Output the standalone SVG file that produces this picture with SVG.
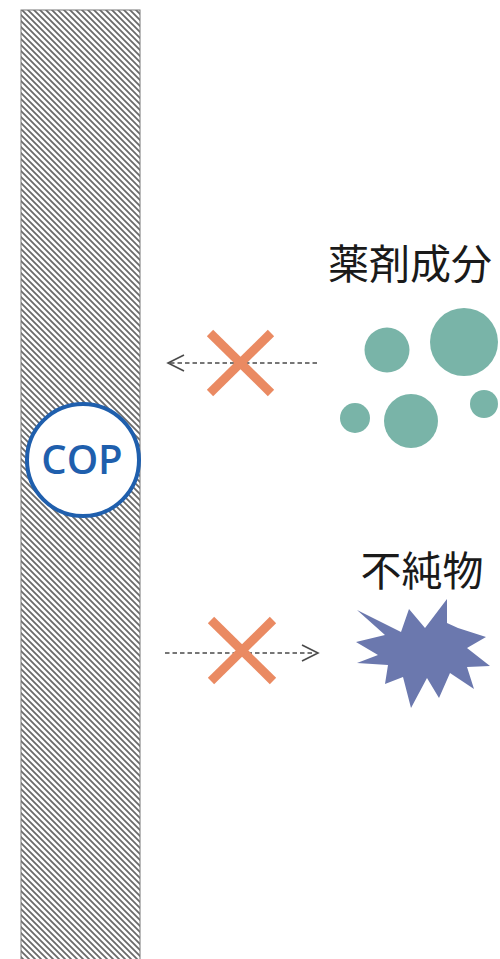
<svg xmlns="http://www.w3.org/2000/svg" width="500" height="959" viewBox="0 0 500 959">
<style>
.lbl{font-family:"Noto Sans CJK JP","Noto Sans",sans-serif;font-size:41px;fill:#1a1a1a;text-anchor:middle}
.dash{stroke:#4a4a4a;stroke-width:1.6;stroke-dasharray:4.5 3;fill:none}
.head{stroke:#4a4a4a;stroke-width:1.6;fill:none}
.cross{stroke:#ea8a62;stroke-width:9;stroke-linecap:butt}
.drug{fill:#79b4a8}
</style>
<defs>
<pattern id="hatch" width="6" height="6" patternUnits="userSpaceOnUse">
<rect width="6" height="6" fill="#fff"/>
<path d="M-3,3 L3,9 M0,0 L6,6 M3,-3 L9,3" stroke="#6a6a6a" stroke-width="1.8"/>
</pattern>
</defs>
<g id="wall">
<rect x="21" y="10" width="119" height="960" fill="url(#hatch)" stroke="#777" stroke-width="1"/>
</g>
<g id="cop">
<circle cx="83" cy="460" r="56" fill="#fff" stroke="#1f5fad" stroke-width="4"/>
<text x="82" y="474" font-family="'Open Sans','Noto Sans',sans-serif" font-size="40" font-weight="600" fill="#1f5fad" text-anchor="middle">COP</text>
</g>
<g id="connectors">
<line class="dash" x1="170" y1="363" x2="318" y2="363"/>
<path class="head" d="M184,355 L168,363 L184,371"/>
<line class="dash" x1="165" y1="653" x2="314" y2="653"/>
<path class="head" d="M302,645 L318,653 L302,661"/>
</g>
<g id="block1">
<line class="cross" x1="210" y1="333" x2="271" y2="393"/>
<line class="cross" x1="271" y1="333" x2="210" y2="393"/>
</g>
<g id="block2">
<line class="cross" x1="211" y1="620" x2="273" y2="681"/>
<line class="cross" x1="273" y1="620" x2="211" y2="681"/>
</g>
<g id="drug">
<text class="lbl" x="410" y="279">薬剤成分</text>
<circle class="drug" cx="387" cy="350" r="22.5"/>
<circle class="drug" cx="464" cy="342" r="34"/>
<circle class="drug" cx="355" cy="418" r="15"/>
<circle class="drug" cx="411" cy="421" r="27"/>
<circle class="drug" cx="484" cy="404" r="14"/>
</g>
<g id="impurity">
<text class="lbl" x="422" y="586">不純物</text>
<polygon fill="#6b78ae" points="357,610 401,632 409,609 425,628 447,599 447,623 458,628 486,637 467,648 490,666 467,667 474,689 450,673 439,698 427,678 411,708 403,677 385,684 388,665 357,663 378,655 356,642 385,635"/>
</g>
</svg>
